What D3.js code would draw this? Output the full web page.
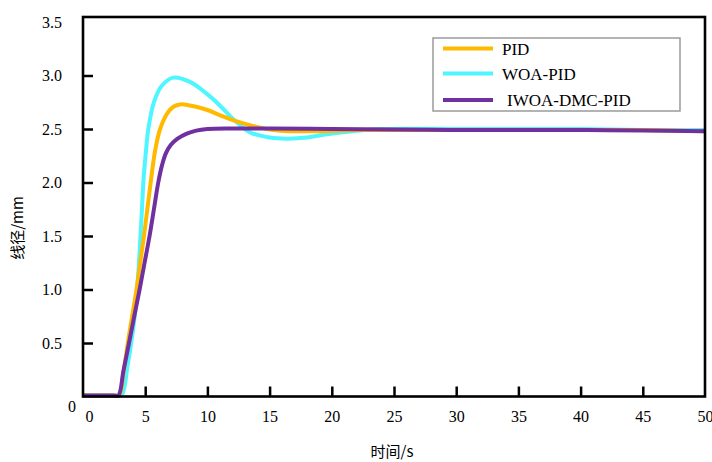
<!DOCTYPE html>
<html>
<head>
<meta charset="utf-8">
<script src="https://cdn.jsdelivr.net/npm/d3@7"></script>
<style>
  body { margin: 0; background: #fff; }
  svg { display: block; }
</style>
</head>
<body>
<svg id="chart" width="712" height="462"></svg>
<script>
// data
const seriesNames = ['PID', 'WOA-PID', 'IWOA-DMC-PID'];

const pidT = [0, 1.5, 2.5, 2.9, 3.25, 3.6, 3.95, 4.3, 4.6, 4.9, 5.18, 5.44, 5.8, 6.2, 6.8, 7.3, 7.8, 8.6, 9.94, 11, 12.1, 13.96, 15.3, 16.6, 19.6, 22, 26, 30, 35, 40, 45, 50];
const pidY = [0.01, 0.01, 0.01, 0.01, 0.22, 0.5, 0.75, 1.0, 1.25, 1.5, 1.76, 2.0, 2.3, 2.5, 2.65, 2.71, 2.73, 2.72, 2.68, 2.63, 2.58, 2.52, 2.49, 2.48, 2.48, 2.49, 2.49, 2.49, 2.49, 2.49, 2.49, 2.48];

const woaT = [0, 1.5, 2.7, 3.1, 3.6, 4.0, 4.2, 4.35, 4.5, 4.62, 4.74, 4.85, 5.05, 5.25, 5.7, 6.3, 7.26, 8.6, 9.94, 11, 12.1, 13.4, 15, 16.4, 18, 19.6, 21.7, 24, 30, 35, 40, 45, 50];
const woaY = [0.01, 0.01, 0.01, 0.01, 0.3, 0.6, 0.8, 1.0, 1.25, 1.5, 1.75, 2.0, 2.28, 2.5, 2.75, 2.9, 2.98, 2.94, 2.83, 2.72, 2.59, 2.47, 2.42, 2.41, 2.42, 2.45, 2.48, 2.5, 2.5, 2.5, 2.5, 2.49, 2.49];

const iwoaT = [0, 1.5, 2.45, 2.84, 3.25, 3.7, 4.12, 4.55, 4.95, 5.35, 5.7, 6.05, 6.35, 6.65, 7.05, 7.6, 8.3, 9.1, 10, 12, 15, 20, 25, 30, 35, 40, 45, 50];
const iwoaY = [0.01, 0.01, 0.01, 0.01, 0.24, 0.5, 0.75, 1.0, 1.25, 1.5, 1.75, 2.0, 2.16, 2.27, 2.35, 2.41, 2.455, 2.485, 2.5, 2.505, 2.505, 2.5, 2.495, 2.49, 2.49, 2.49, 2.485, 2.48];

const xTicks = [0, 5, 10, 15, 20, 25, 30, 35, 40, 45, 50];
const yTicks = [0, 0.5, 1.0, 1.5, 2.0, 2.5, 3.0, 3.5];
const colors = ['#FFBA00', '#4FF5FF', '#7030A0'];

const serif = "'Liberation Serif', 'Times New Roman', 'DejaVu Serif', serif";
const cjk = "'Noto Sans CJK SC', sans-serif";

const svg = d3.select('#chart').attr('font-family', serif);
const m = { left: 83, right: 705, top: 17, bottom: 396.5 };

const x = d3.scaleLinear().domain([0, 50]).range([m.left, m.right]);
const y = d3.scaleLinear().domain([0, 3.5]).range([m.bottom, 22]);

// curves: WOA under PID, IWOA on top
const line = d3.line()
  .x(d => x(d[0]))
  .y(d => y(d[1]))
  .curve(d3.curveCatmullRom.alpha(0.5));

const series = [
  { name: seriesNames[0], t: pidT, v: pidY, color: colors[0] },
  { name: seriesNames[1], t: woaT, v: woaY, color: colors[1] },
  { name: seriesNames[2], t: iwoaT, v: iwoaY, color: colors[2] }
];

[series[1], series[0], series[2]].forEach(s => {
  svg.append('path')
    .datum(d3.zip(s.t, s.v))
    .attr('d', line)
    .attr('fill', 'none')
    .attr('stroke', s.color)
    .attr('stroke-width', 4)
    .attr('stroke-linejoin', 'round');
});

// x axis, ticks pointing inward
const xAxis = svg.append('g')
  .attr('transform', `translate(0,${m.bottom})`)
  .call(d3.axisBottom(x).tickValues(xTicks).tickSize(-10).tickPadding(14).tickFormat(d3.format('d')));
xAxis.attr('font-family', serif).attr('font-size', 16);
xAxis.select('.domain').remove();
xAxis.selectAll('line').attr('stroke-width', 2.5)
  .filter(d => d === 0 || d === 50).remove();
xAxis.selectAll('text').filter(d => d === 0).attr('dx', 6);

// y axis
const yAxis = svg.append('g')
  .attr('transform', `translate(${m.left},0)`)
  .call(d3.axisLeft(y).tickValues(yTicks).tickSize(-10).tickPadding(21)
    .tickFormat(d => d === 0 ? '0' : d3.format('.1f')(d)));
yAxis.attr('font-family', serif).attr('font-size', 16);
yAxis.select('.domain').remove();
yAxis.selectAll('line').attr('stroke-width', 2.5)
  .filter(d => d === 0 || d === 3.5).remove();
yAxis.selectAll('text').filter(d => d === 0).attr('x', -7).attr('dy', '0.95em');

// frame
svg.append('rect')
  .attr('x', m.left).attr('y', m.top)
  .attr('width', m.right - m.left).attr('height', m.bottom - m.top)
  .attr('fill', 'none').attr('stroke', '#000').attr('stroke-width', 2.6);

// axis titles
svg.append('text')
  .attr('font-family', cjk)
  .attr('x', 392).attr('y', 457)
  .attr('text-anchor', 'middle')
  .attr('font-size', 15)
  .text('时间/s');

svg.append('text')
  .attr('font-family', cjk)
  .attr('transform', 'translate(23,228) rotate(-90)')
  .attr('text-anchor', 'middle')
  .attr('font-size', 15)
  .text('线径/mm');

// legend
const legend = svg.append('g');
legend.append('rect')
  .attr('x', 433).attr('y', 38)
  .attr('width', 247).attr('height', 73)
  .attr('fill', '#fff').attr('stroke', '#9a9a9a').attr('stroke-width', 1.5);

const legendY = [48.5, 73.5, 100];
series.forEach((s, i) => {
  legend.append('line')
    .attr('x1', 443).attr('x2', 493)
    .attr('y1', legendY[i]).attr('y2', legendY[i])
    .attr('stroke', s.color).attr('stroke-width', 4);
  legend.append('text')
    .attr('x', i === 2 ? 507 : 502)
    .attr('y', legendY[i] + 6)
    .attr('font-size', 17)
    .text(s.name);
});
</script>
</body>
</html>
